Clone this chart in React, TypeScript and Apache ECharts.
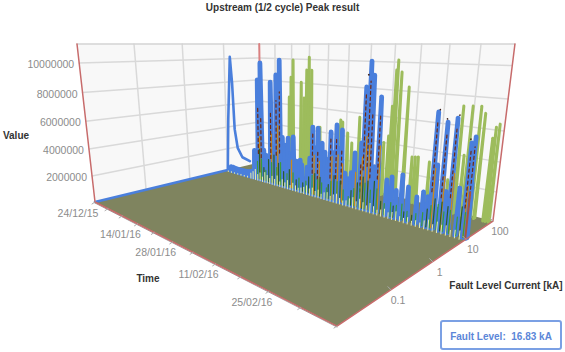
import React, { useEffect, useRef } from "react";
import * as echarts from "echarts";

// ---- axis ticks
const timeTickDays = [0, 7, 14, 21, 28, 35, 42, 49, 56, 63, 70, 77];
const timeLabelDays = [0, 21, 35, 49, 63];
const timeLabels = ["24/12/15", "14/01/16", "28/01/16", "11/02/16", "25/02/16"];
const faultTicks = [0.1, 1, 10, 100];
const faultLabels = ["0.1", "1", "10", "100"];
const valueTicks = [2000000, 4000000, 6000000, 8000000, 10000000];
const valueLabels = ["2000000", "4000000", "6000000", "8000000", "10000000"];

// ---- series: fault levels
const blueFault = 11;
const greenFault = 80;
const innerFault = 10.6;
const fringeFault = 8.5;

// ---- first curve, whole sweep along the fault axis
const firstCurveFault = [0.01, 10, 11.5, 14.3, 15.7, 17, 20, 27, 45];
const firstCurveValue = [0, 0, 4700000, 10160000, 7900000, 3700000, 1900000, 900000, 350000];

// ---- blue peaks
const blueDays = [1, 2, 3, 4, 5, 6, 7, 8, 9, 10, 11, 12, 13.7, 14.9, 16, 17, 18.9, 20, 21.1, 22.4, 23.5, 24.5, 25.7, 26.6, 27.6, 28.8, 30.2, 30.8, 32.7, 33.6, 34.5, 35.4, 36.3, 37.7, 38.7, 39.6, 40.5, 41.4, 42.3, 43.2, 44, 45.2, 46.2, 47.1, 48, 49.8, 50.5, 51.6, 52.5, 53.6, 54.6, 57.2, 58.5, 59.8, 61.2, 62.8, 65, 66.5, 67.6, 68.4, 69.2, 70.6, 71.6, 72.6, 74.4, 75.9, 76.6, 76.8];
const blueValues = [350000, 350000, 300000, 300000, 280000, 280000, 300000, 320000, 350000, 400000, 500000, 2400000, 8400000, 9770000, 2600000, 2200000, 8300000, 3000000, 8900000, 10050000, 4000000, 3400000, 4040000, 2800000, 4200000, 2300000, 2470000, 2100000, 2030000, 2800000, 5230000, 3700000, 5220000, 4150000, 3510000, 3000000, 5090000, 3600000, 5670000, 4000000, 5370000, 2270000, 1900000, 2400000, 3890000, 4680000, 8500000, 10180000, 9300000, 3200000, 7930000, 2470000, 2760000, 1900000, 3050000, 2330000, 1800000, 2240000, 2000000, 7350000, 4140000, 6820000, 2600000, 7120000, 3000000, 5790000, 6170000, 3450000];

// ---- green peaks
const greenDays = [14.2, 14.4, 15.1, 15.9, 19.2, 20.4, 21.3, 22.2, 23.2, 26.6, 34, 34.7, 36.5, 38, 40.3, 48.1, 49.4, 50, 50.6, 51, 52.1, 54.3, 56.4, 57.3, 58.1, 61.1, 66.1, 68.2, 69.4, 70.3, 72.2, 73.2, 75.3, 75.8, 76.5];
const greenValues = [3000000, 6740000, 8470000, 9930000, 8100000, 6790000, 9140000, 10200000, 9150000, 4480000, 5340000, 5200000, 4380000, 3630000, 5760000, 4110000, 4650000, 6870000, 9460000, 10160000, 9340000, 8330000, 3390000, 3440000, 3480000, 3260000, 2260000, 7370000, 4150000, 7420000, 7460000, 7040000, 5540000, 6250000, 6470000];

// ---- inner traces that show through the blue peaks
const redDays = [13.7, 14.9, 18.9, 21.1, 22.4, 34.5, 36.3, 40.5, 42.3, 44, 49.8, 50.5, 51.6, 52.5, 54.6, 68.4, 70.6, 72.6, 75.9, 76.6];
const redValues = [6300000, 5400000, 5800000, 6900000, 7600000, 4700000, 3600000, 4600000, 4800000, 3900000, 3300000, 8000000, 8900000, 6700000, 6800000, 6800000, 6100000, 6500000, 5300000, 5600000];
const orangeDays = [14.3, 19.2, 21.7, 27, 35.1, 36.9, 41, 42.9, 44.4, 48.4, 50.2, 51.2, 52.1, 55, 68.8, 71, 73, 76.1];
const orangeValues = [3700000, 4100000, 4900000, 2300000, 3100000, 2700000, 3300000, 3500000, 2900000, 2500000, 3700000, 5200000, 4600000, 4700000, 3900000, 3500000, 3800000, 3200000];
const brownDays = [76.7];
const brownValues = [2900000];
const darkGreenDays = [13.5, 15.2, 17, 19.4, 21.5, 23, 25.5, 27.8, 30, 32.5, 34.7, 36.6, 38, 39.6, 41, 43, 45, 46.6, 48.2, 50, 51.4, 53, 54.8, 57, 58.7, 60.2, 61.6, 63, 65.2, 66.8, 68.6, 70.2, 71.6, 73, 74.6, 76.2];
const darkGreenValues = [1500000, 1800000, 900000, 1700000, 1400000, 1900000, 1100000, 1300000, 1000000, 900000, 1500000, 1300000, 1100000, 800000, 1400000, 1500000, 1000000, 600000, 1300000, 1700000, 1900000, 1500000, 1700000, 800000, 1000000, 900000, 1100000, 700000, 700000, 900000, 1500000, 1700000, 1300000, 1500000, 1200000, 1600000];
const deepGreenDays = [14.4, 16.2, 18.2, 20.4, 22.2, 24.2, 26.4, 29, 31.4, 33.5, 35.6, 37.4, 40.2, 42, 44, 47.4, 49.2, 50.8, 52.2, 54, 56, 59.4, 62.2, 64.2, 67.8, 69.4, 71, 72.4, 75.4];
const deepGreenValues = [2600000, 1100000, 1900000, 2400000, 1800000, 1200000, 1500000, 800000, 700000, 1300000, 1700000, 1500000, 1100000, 1900000, 1600000, 1100000, 1800000, 2300000, 2100000, 2200000, 900000, 800000, 600000, 500000, 1200000, 2000000, 1900000, 1700000, 1900000];

// ---- pale fringe in front of the peaks
const fringeDays = [1.5, 3, 4.5, 6, 7.5, 9, 10.5, 12, 13, 14, 15, 16, 17, 18, 19, 20, 21, 22, 23, 24, 25, 26, 27, 28, 29, 30, 31, 32, 33, 34, 35, 36, 37, 38, 39, 40, 41, 42, 43, 44, 45, 46, 47, 48, 49, 50, 51, 52, 53, 54, 55, 56, 57, 58, 59, 60, 61, 62, 63, 64, 65, 66, 67, 68, 69, 70, 71, 72, 73, 74, 75, 76];
const fringeValues = [60000, 70000, 50000, 60000, 80000, 70000, 90000, 450000, 650000, 900000, 500000, 700000, 400000, 850000, 650000, 450000, 700000, 500000, 850000, 400000, 650000, 450000, 700000, 350000, 600000, 450000, 320000, 400000, 520000, 700000, 520000, 650000, 450000, 620000, 360000, 540000, 620000, 400000, 580000, 700000, 450000, 320000, 400000, 620000, 780000, 540000, 800000, 620000, 450000, 700000, 540000, 360000, 450000, 580000, 400000, 500000, 620000, 360000, 320000, 450000, 280000, 400000, 320000, 540000, 680000, 450000, 700000, 580000, 620000, 400000, 500000, 540000];

// ---- isolated dots above the peaks
const dotDays = [68.7, 50.9, 70.4, 72.9, 75.6];
const dotValues = [7500000, 9300000, 7000000, 7300000, 6000000];

const dayMax = 77;
const valueMax = 11250000;
const RED = "#c76b6b";
const FONT = "'Liberation Sans', Arial, sans-serif";

function floorPoint(day: number, fault: number): number[] {
  const u = day / dayMax;
  const v = (Math.log10(fault) + 2) / 4;
  const w = -0.4317 * u + 0.3334 * v + 1;
  return [(96.5 * u + 253 * v + 95) / w, (-16.7 * u + 14 * v + 202) / w];
}

function project(day: number, fault: number, value: number): number[] {
  const [px, py] = floorPoint(day, fault);
  const k = ((py - 44) / (44 - 1883)) * (value / valueMax);
  return [(px + k * 286.5) / (1 + k), (py + k * 1883) / (1 + k)];
}

function layer(data: any[], z: number, draw: (d: any, api: any) => any) {
  return {
    type: "custom",
    coordinateSystem: "cartesian2d",
    silent: true,
    z,
    clip: false,
    data: data.map((_, i) => [i, 0]),
    renderItem: (params: any, api: any) => draw(data[params.dataIndex], api),
  };
}

const xy = (api: any, p: number[]) => api.coord(p);

function poly(api: any, pts: number[][], stroke: string, lineWidth: number, dash?: number[]) {
  return {
    type: "polyline",
    shape: { points: pts.map((p) => xy(api, p)) },
    style: { stroke, lineWidth, fill: null, lineCap: "round", lineJoin: "round", lineDash: dash },
  };
}

function label(api: any, p: number[], text: string, opt: any) {
  const [x, y] = xy(api, p);
  return {
    type: "text",
    style: {
      text,
      x,
      y,
      fill: opt.fill ?? "#8c8c8c",
      fontSize: opt.size ?? 10.5,
      fontWeight: opt.weight ?? "normal",
      fontFamily: FONT,
      align: opt.align ?? "center",
      verticalAlign: "middle",
    },
  };
}

const zipped = (a: number[], b: number[]) => a.map((d, i) => [d, b[i]]);

function spike(day: number, value: number, fault: number): number[][] {
  return [
    project(day, fault * 0.97, 0),
    project(day, fault, value),
    project(day, fault * 1.04, value * 0.5),
    project(day, fault * 1.08, 0),
  ];
}

function buildOption() {
  const F0 = 0.01;
  const F1 = 100;
  const series: any[] = [
    layer([[[0, F0], [0, F1]], [[0, F1], [dayMax, F1]]], 1, (seg, api) => ({
      type: "polygon",
      shape: {
        points: [
          project(seg[0][0], seg[0][1], 0),
          project(seg[1][0], seg[1][1], 0),
          project(seg[1][0], seg[1][1], valueMax),
          project(seg[0][0], seg[0][1], valueMax),
        ].map((p) => xy(api, p)),
      },
      style: { fill: "#f8f8f8" },
    })),
    layer(valueTicks, 2, (val, api) =>
      poly(api, [project(0, F0, val), project(0, F1, val), project(dayMax, F1, val)], "#d9d9d9", 1.5)
    ),
    layer(faultTicks.slice(0, 3), 2, (f, api) =>
      poly(api, [project(0, f, 0), project(0, f, valueMax)], "#d9d9d9", 1.5)
    ),
    layer(timeTickDays.slice(1, -1), 2, (d, api) =>
      poly(api, [project(d, F1, 0), project(d, F1, valueMax)], "#d9d9d9", 1.5)
    ),
    layer([0], 3, (_, api) =>
      poly(api, [project(0, F0, valueMax), project(0, F1, valueMax), project(dayMax, F1, valueMax)], "#d4d4d4", 1.5)
    ),
    layer([0], 3, (_, api) => poly(api, [project(0, F1, 0), project(0, F1, valueMax)], "#d98080", 2)),
    layer([0], 4, (_, api) => ({
      type: "polygon",
      shape: {
        points: [
          project(0, F0, 0),
          project(dayMax, F0, 0),
          project(dayMax, F1, 0),
          project(0, F1, 0),
        ].map((p) => xy(api, p)),
      },
      style: { fill: "#7f845f" },
    })),
    layer(zipped(greenDays, greenValues), 5, (d, api) => poly(api, spike(d[0], d[1], greenFault), "#9dbc5c", 3)),
    layer([0], 6, (_, api) =>
      poly(api, firstCurveFault.map((f, i) => project(0, f, firstCurveValue[i])), "#4a7fdc", 2.6)
    ),
    layer(zipped(blueDays, blueValues), 6, (d, api) => poly(api, spike(d[0], d[1], blueFault), "#4a7fdc", 4.8)),
    layer(zipped(orangeDays, orangeValues), 7, (d, api) =>
      poly(api, [project(d[0], blueFault, 0), project(d[0], blueFault, d[1])], "#c98a1e", 1.3)
    ),
    layer(zipped(redDays, redValues), 8, (d, api) =>
      poly(api, [project(d[0], blueFault, d[1] * 0.35), project(d[0], blueFault, d[1])], "#6e2a14", 1.2, [3, 3])
    ),
    layer(zipped(brownDays, brownValues), 8, (d, api) =>
      poly(api, [project(d[0], innerFault, 0), project(d[0], innerFault, d[1])], "#a8543a", 2)
    ),
    layer(zipped(deepGreenDays, deepGreenValues), 9, (d, api) =>
      poly(api, [project(d[0], innerFault, 0), project(d[0], innerFault, d[1])], "#2c5d28", 1.2)
    ),
    layer(zipped(darkGreenDays, darkGreenValues), 9, (d, api) =>
      poly(api, [project(d[0], innerFault, 0), project(d[0], innerFault, d[1])], "#3c9a3c", 1.2)
    ),
    layer(zipped(fringeDays, fringeValues), 10, (d, api) =>
      poly(api, [project(d[0], fringeFault, 0), project(d[0], fringeFault, d[1])], "#e8ecaa", 1)
    ),
    layer(zipped(dotDays, dotValues), 10, (d, api) => {
      const [x, y] = xy(api, project(d[0], blueFault, d[1]));
      return { type: "circle", shape: { cx: x, cy: y, r: 0.8 }, style: { fill: "#3a1a10" } };
    }),
    layer([0], 11, (_, api) => {
      const a = project(0, F0, 0);
      const b = project(dayMax, F0, 0);
      return poly(api, [[a[0], a[1] + 1], [b[0], b[1] + 1]], "#a0a0a0", 1);
    }),
    layer([0], 11, (_, api) =>
      poly(api, [project(0, F0, valueMax), project(0, F0, 0), project(dayMax, F0, 0), project(dayMax, F1, 0), project(dayMax, F1, valueMax)], RED, 1.5)
    ),
    layer(timeTickDays, 11, (d, api) => {
      const p = project(d, F0, 0);
      return poly(api, [p, [p[0] - 3, p[1] + 2]], "#aaaaaa", 1);
    }),
    layer(faultTicks, 11, (f, api) => {
      const p = project(dayMax, f, 0);
      return poly(api, [p, [p[0] - 3, p[1] - 3]], "#aaaaaa", 1);
    }),
    layer(valueTicks, 12, (val, api) => {
      const p = project(0, F0, val);
      return label(api, [p[0] - 5, p[1] + 1], valueLabels[valueTicks.indexOf(val)], { align: "right" });
    }),
    layer(timeLabelDays, 12, (d, api) => {
      const p = project(d, F0, 0);
      return label(api, [p[0] - 17, p[1] + 10.5], timeLabels[timeLabelDays.indexOf(d)], {});
    }),
    layer(faultTicks, 12, (f, api) => {
      const p = project(dayMax, f, 0);
      return label(api, [p[0] + 7, p[1] + 10], faultLabels[faultTicks.indexOf(f)], {});
    }),
    layer([0], 12, (_, api) => label(api, [16, 135], "Value", { fill: "#333333", weight: "bold", size: 10 })),
    layer([0], 12, (_, api) => label(api, [148, 278], "Time", { fill: "#333333", weight: "bold", size: 10 })),
    layer([0], 12, (_, api) => label(api, [506, 285], "Fault Level Current [kA]", { fill: "#333333", weight: "bold", size: 10 })),
  ];

  return {
    animation: false,
    backgroundColor: "#ffffff",
    title: {
      text: "Upstream (1/2 cycle) Peak result",
      left: "center",
      top: 2,
      padding: 0,
      textStyle: { fontSize: 10, fontWeight: "bold", color: "#333333", fontFamily: FONT },
    },
    grid: { left: 0, right: 0, top: 0, bottom: 0 },
    xAxis: { type: "value", min: 0, max: 565, show: false },
    yAxis: { type: "value", min: 0, max: 352, inverse: true, show: false },
    graphic: [
      {
        type: "group",
        z: 100,
        children: [
          {
            type: "rect",
            shape: { x: 441, y: 321, width: 120, height: 28, r: 2 },
            style: { fill: "#ffffff", stroke: "#7ba0e4", lineWidth: 2 },
          },
          {
            type: "text",
            style: {
              text: "Fault Level:  16.83 kA",
              x: 501,
              y: 336,
              align: "center",
              verticalAlign: "middle",
              fill: "#5b86d8",
              fontSize: 10,
              fontWeight: "bold",
              fontFamily: FONT,
            },
          },
        ],
      },
    ],
    series,
  };
}

export default function App() {
  const ref = useRef<HTMLDivElement>(null);
  useEffect(() => {
    document.body.style.margin = "0";
    const chart = echarts.init(ref.current!, undefined, { renderer: "svg" });
    chart.setOption(buildOption() as any);
    return () => chart.dispose();
  }, []);
  return <div ref={ref} style={{ width: 565, height: 352 }} />;
}
